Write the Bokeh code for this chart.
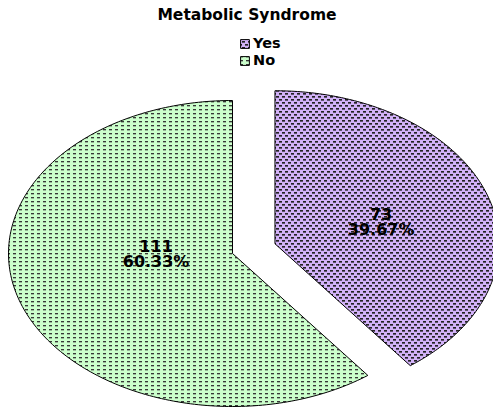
import numpy as np
import zlib, struct, base64
from bokeh.plotting import figure
from bokeh.models import Range1d, Label, Legend, LegendItem, ImageURLTexture
from bokeh.core.properties import value
from bokeh.embed import file_html
from bokeh.resources import INLINE

# ---- data ----
title_text = "Metabolic Syndrome"
categories = ["Yes", "No"]
counts = [73, 111]

# ---- layout / style ----
W, H = 493, 409
CX, CY = 232, 253          # pie centre in canvas px
RX, RY = 224, 153          # pie radii in px (stretched ellipse)
explode = [0.2, 0.0]
fills = ["#D2B2F8", "#CCFFCC"]
label_r = [0.5, 0.36]
label_dy = [3, -17]
FONT = "DejaVu Sans"


def png_data_url(alpha_rows, rgb):
    """Tiny RGBA PNG from a grid of alpha values (style texture)."""
    h = len(alpha_rows)
    w = len(alpha_rows[0])
    raw = b""
    for row in alpha_rows:
        raw += b"\x00" + b"".join(bytes([rgb[0], rgb[1], rgb[2], a]) for a in row)

    def chunk(tag, data):
        c = struct.pack(">I", len(data)) + tag + data
        return c + struct.pack(">I", zlib.crc32(tag + data) & 0xffffffff)

    png = (b"\x89PNG\r\n\x1a\n" +
           chunk(b"IHDR", struct.pack(">IIBBBBB", w, h, 8, 6, 0, 0, 0)) +
           chunk(b"IDAT", zlib.compress(raw)) + chunk(b"IEND", b""))
    return "data:image/png;base64," + base64.b64encode(png).decode()


D, M, L, O = 255, 170, 90, 0
yes_tile = [
    [D, D, D, O, O, O],
    [M, M, M, O, O, O],
    [O, O, O, O, O, O],
    [O, O, O, D, D, D],
    [O, O, O, M, M, M],
    [O, O, O, O, O, O],
]
no_tile = [
    [O, O, O, O, O, O],
    [O, D, D, D, O, O],
    [O, L, L, L, O, O],
    [O, O, O, O, O, O],
]
tex_yes = ImageURLTexture(url=png_data_url(yes_tile, (35, 35, 35)))
tex_no = ImageURLTexture(url=png_data_url(no_tile, (55, 55, 55)))
hatch_pats = ["yes_tex", "no_tex"]
hatch_extra = {"yes_tex": tex_yes, "no_tex": tex_no}

p = figure(width=W, height=H, output_backend="svg", toolbar_location=None,
           x_range=Range1d((0 - CX) / RX, (W - CX) / RX),
           y_range=Range1d(-(H - CY) / RY, CY / RY),
           min_border=0, outline_line_color=None)
p.axis.visible = False
p.grid.visible = False

total = sum(counts)
start = 90.0
renderers = []
for i, c in enumerate(counts):
    frac = c / total
    a0 = start
    a1 = start - frac * 360.0
    mid = np.radians((a0 + a1) / 2)
    ox, oy = explode[i] * np.cos(mid), explode[i] * np.sin(mid)
    ang = np.radians(np.linspace(a0, a1, 200))
    xs = np.concatenate([[ox], ox + np.cos(ang), [ox]])
    ys = np.concatenate([[oy], oy + np.sin(ang), [oy]])
    r = p.patch(xs, ys, fill_color=fills[i], line_color="black", line_width=1,
                hatch_pattern=hatch_pats[i], hatch_extra=hatch_extra)
    renderers.append(r)
    lx = ox + label_r[i] * np.cos(mid)
    ly = oy + label_r[i] * np.sin(mid)
    pct = f"{frac * 100:.2f}%"
    p.text([lx], [ly], text=[str(c)], text_align="center", text_baseline="middle",
           text_font=value(FONT), text_font_style="bold", text_font_size="16px",
           y_offset=label_dy[i] - 8, text_color="black")
    p.text([lx], [ly], text=[pct], text_align="center", text_baseline="middle",
           text_font=value(FONT), text_font_style="bold", text_font_size="16px",
           y_offset=label_dy[i] + 7, text_color="black")
    start = a1

title = Label(x=W / 2, y=H - 14, x_units="screen", y_units="screen", text=title_text,
              text_align="center", text_baseline="middle", text_font=FONT,
              text_font_style="bold", text_font_size="15.5px", text_color="black")
p.add_layout(title)

legend = Legend(items=[LegendItem(label=categories[i], renderers=[renderers[i]]) for i in range(2)],
                location=(239, 341), padding=0, margin=0, spacing=1,
                glyph_width=11, glyph_height=11, label_standoff=3, label_height=11,
                label_text_font=FONT, label_text_font_style="bold",
                label_text_font_size="14.5px", label_text_color="black",
                border_line_color=None, background_fill_alpha=0)
p.add_layout(legend)

open("out.html", "w").write(file_html(p, INLINE))
